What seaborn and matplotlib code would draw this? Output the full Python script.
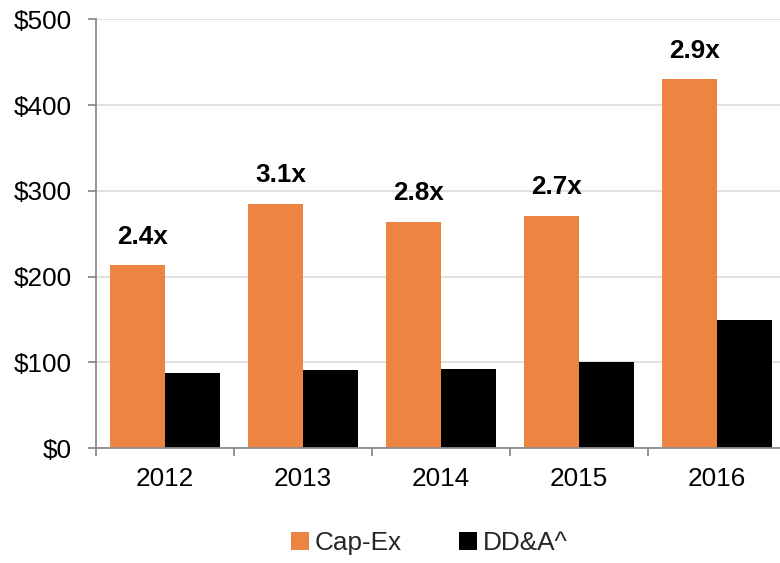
import matplotlib
matplotlib.use("Agg")
import matplotlib.pyplot as plt
import seaborn as sns
import pandas as pd
import numpy as np
from matplotlib.patches import Patch

years = ["2012", "2013", "2014", "2015", "2016"]
capex = [213, 285, 264, 271, 430]
dda = [88, 91, 92, 100, 149]
multiples = ["2.4x", "3.1x", "2.8x", "2.7x", "2.9x"]
series_names = ["Cap-Ex", "DD&A^"]
y_ticks = [0, 100, 200, 300, 400, 500]

ORANGE = "#EE8441"
BLACK = "#000000"
FS = 18.8

df = pd.DataFrame({
    "Year": years * 2,
    "Value": capex + dda,
    "Series": [series_names[0]] * len(years) + [series_names[1]] * len(years),
})

sns.set_theme(style="white")
plt.rcParams["font.family"] = ["Liberation Sans", "DejaVu Sans"]

fig = plt.figure(figsize=(7.8, 5.63), dpi=100)
ax = fig.add_axes([96 / 780, 115 / 563, 690 / 780, 428.7 / 563])

sns.barplot(data=df, x="Year", y="Value", hue="Series", order=years,
            hue_order=series_names, palette=[ORANGE, BLACK], width=0.8,
            saturation=1, linewidth=0, legend=False, ax=ax)

ax.set_ylim(0, 500)
ax.set_xlim(-0.5, len(years) - 0.5)
ax.set_yticks(y_ticks)
ax.set_yticklabels([f"${v}" for v in y_ticks])
ax.set_xlabel("")
ax.set_ylabel("")

ax.grid(axis="y", color="#dcdcdc", linewidth=1.2)
ax.grid(axis="x", visible=False)
ax.set_axisbelow(True)

for s in ["top", "right"]:
    ax.spines[s].set_visible(False)
for s in ["left", "bottom"]:
    ax.spines[s].set_color("#8c8c8c")
    ax.spines[s].set_linewidth(1.3)

ax.tick_params(axis="y", which="major", direction="out", length=5.5, width=1.3,
               color="#8c8c8c", pad=12, labelsize=FS, labelcolor="black", left=True)
ax.tick_params(axis="x", which="major", length=0, pad=14, labelsize=FS,
               labelcolor="black")
ax.set_xticks(np.arange(-0.5, len(years) + 0.5, 1), minor=True)
ax.tick_params(axis="x", which="minor", direction="out", length=6, width=1.3,
               color="#8c8c8c", bottom=True)

# multiple labels above Cap-Ex bars
capex_bars = ax.containers[0]
for bar, lab in zip(capex_bars, multiples):
    cx = bar.get_x() + bar.get_width() / 2 + 0.04
    ax.annotate(lab, (cx, bar.get_height()), xytext=(0, 12),
                textcoords="offset points", ha="center", va="bottom",
                fontsize=FS, fontweight="bold", color="black")

handles = [Patch(facecolor=ORANGE, edgecolor="none"),
           Patch(facecolor=BLACK, edgecolor="none")]
fig.legend(handles, series_names, loc="center",
           bbox_to_anchor=(429 / 780, 1 - 543 / 563), ncol=2, frameon=False,
           fontsize=FS, handlelength=0.7, handleheight=0.7, handletextpad=0.2,
           columnspacing=2.2, borderaxespad=0)

fig.savefig("out.png", dpi=100)
